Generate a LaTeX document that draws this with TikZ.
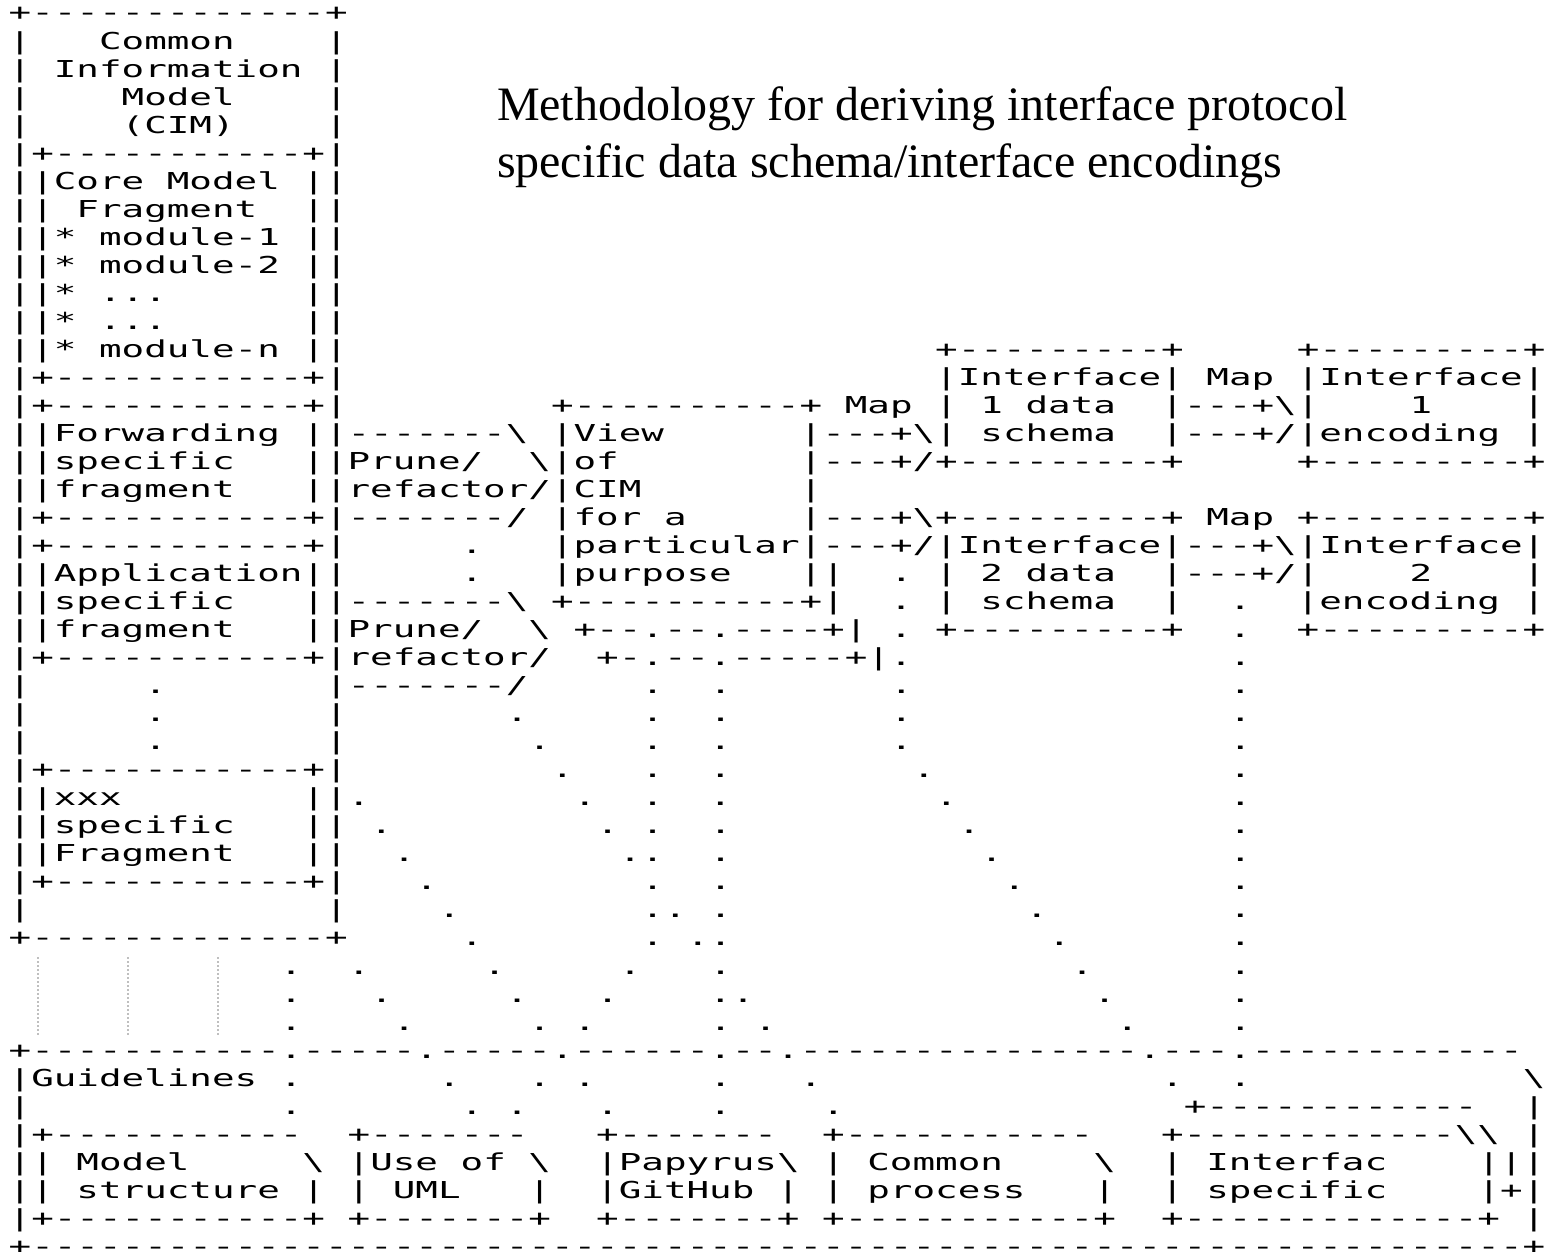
\documentclass[tikz,border=0pt]{standalone}
\usepackage{fontspec}
\newfontfamily\asciifont[FakeStretch=1.611]{DejaVu Sans Mono}
\newfontfamily\titlefont{Liberation Serif}
\newlength\cw
\AtBeginDocument{\settowidth\cw{\fontsize{23.3pt}{28pt}\asciifont x}}
\newcommand\bsl{\textbackslash}
\newcommand\gap[1]{\kern#1\cw}
\newcommand\asciisetup{\fontsize{23.3pt}{28pt}\asciifont\def~{\kern\cw}}
\tikzstyle{row} = [anchor=north west, inner sep=0pt, outer sep=0pt, text height=19pt, text depth=9.03pt, font=\asciisetup]
\tikzstyle{heading} = [anchor=base west, inner sep=0pt, outer sep=0pt, font=\fontsize{48pt}{57pt}\titlefont]

\begin{document}
\begin{tikzpicture} [x=1pt, y=-1pt, fence/.style={draw=black!25, line width=2.2pt, dash pattern=on 2pt off 2pt}]
            \useasboundingbox (0,0) rectangle (1550,1252);
            \node (title 1) [heading] at (497,121) {Methodology for deriving interface protocol};
            \node (title 2) [heading] at ([yshift=-57pt]title 1.base west) {specific data schema/interface encodings};

            \node (row 0) [row] at (8.7,2) {+-------------+};
            \node (row 1) [row] at (row 0.south west) {|~~~Common~~~~|};
            \node (row 2) [row] at (row 1.south west) {|~Information~|};
            \node (row 3) [row] at (row 2.south west) {|\gap{4}Model\gap{4}|};
            \node (row 4) [row] at (row 3.south west) {|\gap{4}(CIM)\gap{4}|};
            \node (row 5) [row] at (row 4.south west) {|+-----------+|};
            \node (row 6) [row] at (row 5.south west) {||Core~Model~||};
            \node (row 7) [row] at (row 6.south west) {||~Fragment~~||};
            \node (row 8) [row] at (row 7.south west) {||*~module-1~||};
            \node (row 9) [row] at (row 8.south west) {||*~module-2~||};
            \node (row 10) [row] at (row 9.south west) {||*~...\gap{6}||};
            \node (row 11) [row] at (row 10.south west) {||*~...\gap{6}||};
            \node (row 12) [row] at (row 11.south west) {||*~module-n~||\gap{26}+---------+\gap{5}+---------+};
            \node (row 13) [row] at (row 12.south west) {|+-----------+|\gap{26}|Interface|~Map~|Interface|};
            \node (row 14) [row] at (row 13.south west) {|+-----------+|\gap{9}+----------+~Map~|~1~data~~|---+\bsl|\gap{4}1\gap{4}|};
            \node (row 15) [row] at (row 14.south west) {||Forwarding~||-------\bsl~|View\gap{6}|---+\bsl|~schema~~|---+/|encoding~|};
            \node (row 16) [row] at (row 15.south west) {||specific~~~||Prune/~~\bsl|of\gap{8}|---+/+---------+\gap{5}+---------+};
            \node (row 17) [row] at (row 16.south west) {||fragment~~~||refactor/|CIM\gap{7}|};
            \node (row 18) [row] at (row 17.south west) {|+-----------+|-------/~|for~a\gap{5}|---+\bsl+---------+~Map~+---------+};
            \node (row 19) [row] at (row 18.south west) {|+-----------+|\gap{5}.~~~|particular|---+/|Interface|---+\bsl|Interface|};
            \node (row 20) [row] at (row 19.south west) {||Application||\gap{5}.~~~|purpose~~~||~~.~|~2~data~~|---+/|\gap{4}2\gap{4}|};
            \node (row 21) [row] at (row 20.south west) {||specific~~~||-------\bsl~+----------+|~~.~|~schema~~|~~.~~|encoding~|};
            \node (row 22) [row] at (row 21.south west) {||fragment~~~||Prune/~~\bsl~+--.--.----+|~.~+---------+~~.~~+---------+};
            \node (row 23) [row] at (row 22.south west) {|+-----------+|refactor/~~+-.--.-----+|.\gap{14}.};
            \node (row 24) [row] at (row 23.south west) {|\gap{5}.\gap{7}|-------/\gap{5}.~~.\gap{7}.\gap{14}.};
            \node (row 25) [row] at (row 24.south west) {|\gap{5}.\gap{7}|\gap{7}.\gap{5}.~~.\gap{7}.\gap{14}.};
            \node (row 26) [row] at (row 25.south west) {|\gap{5}.\gap{7}|\gap{8}.\gap{4}.~~.\gap{7}.\gap{14}.};
            \node (row 27) [row] at (row 26.south west) {|+-----------+|\gap{9}.~~~.~~.\gap{8}.\gap{13}.};
            \node (row 28) [row] at (row 27.south west) {||xxx\gap{8}||.\gap{9}.~~.~~.\gap{9}.\gap{12}.};
            \node (row 29) [row] at (row 28.south west) {||specific~~~||~.\gap{9}.~.~~.\gap{10}.\gap{11}.};
            \node (row 30) [row] at (row 29.south west) {||Fragment~~~||~~.\gap{9}..~~.\gap{11}.\gap{10}.};
            \node (row 31) [row] at (row 30.south west) {|+-----------+|~~~.\gap{9}.~~.\gap{12}.\gap{9}.};
            \node (row 32) [row] at (row 31.south west) {|\gap{13}|\gap{4}.\gap{8}..~.\gap{13}.\gap{8}.};
            \node (row 33) [row] at (row 32.south west) {+-------------+\gap{5}.\gap{7}.~..\gap{14}.\gap{7}.};
            \node (row 34) [row] at (row 33.south west) {\gap{12}.~~.\gap{5}.\gap{5}.~~~.\gap{15}.\gap{6}.};
            \node (row 35) [row] at (row 34.south west) {\gap{12}.~~~.\gap{5}.~~~.\gap{4}..\gap{15}.\gap{5}.};
            \node (row 36) [row] at (row 35.south west) {\gap{12}.\gap{4}.\gap{5}.~.\gap{5}.~.\gap{15}.\gap{4}.};
            \node (row 37) [row] at (row 36.south west) {+-----------.-----.-----.------.--.---------------.---.------------};
            \node (row 38) [row] at (row 37.south west) {|Guidelines~.\gap{6}.~~~.~.\gap{5}.~~~.\gap{15}.~~.\gap{12}\bsl};
            \node (row 39) [row] at (row 38.south west) {|\gap{11}.\gap{7}.~.~~~.\gap{4}.\gap{4}.\gap{15}+------------~~|};
            \node (row 40) [row] at (row 39.south west) {|+-----------~~+-------~~~+-------~~+-----------~~~+------------\bsl\bsl~|};
            \node (row 41) [row] at (row 40.south west) {||~Model\gap{5}\bsl~|Use~of~\bsl~~|Papyrus\bsl~|~Common\gap{4}\bsl~~|~Interfac\gap{4}|||};
            \node (row 42) [row] at (row 41.south west) {||~structure~|~|~UML~~~|~~|GitHub~|~|~process~~~|~~|~specific\gap{4}|+|};
            \node (row 43) [row] at (row 42.south west) {|+-----------+~+-------+~~+-------+~+-----------+~~+-------------+~|};
            \node (row 44) [row] at (row 43.south west) {+------------------------------------------------------------------+};

            \foreach \x in {38,128,218}
                \draw [fence] (\x,957) -- (\x,1035);
        \end{tikzpicture}
\end{document}
